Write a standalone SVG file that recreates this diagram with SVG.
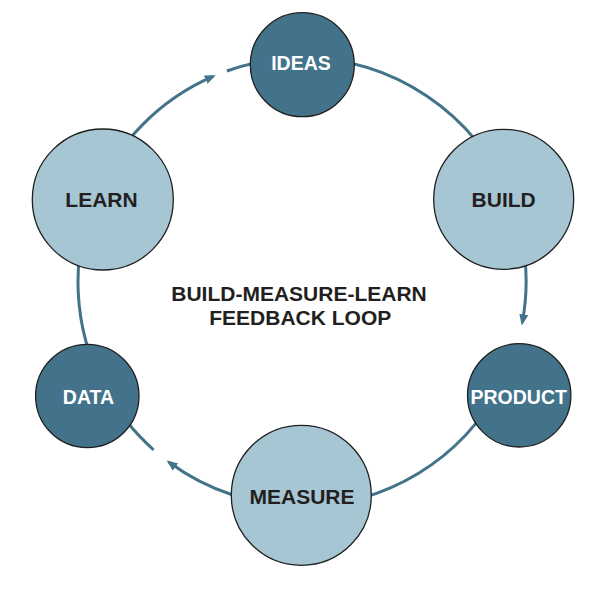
<svg xmlns="http://www.w3.org/2000/svg" width="612" height="596" viewBox="0 0 612 596">
<defs>
<style>
.arc{fill:none;stroke:#43738a;stroke-width:3}
.dark{fill:#43738a;stroke:#1f1f1f;stroke-width:1.3}
.light{fill:#a7c6d3;stroke:#1f1f1f;stroke-width:1.3}
.tw{font-family:"Liberation Sans",Arial,sans-serif;font-weight:bold;font-size:19.5px;fill:#ffffff;text-anchor:middle}
.tb{font-family:"Liberation Sans",Arial,sans-serif;font-weight:bold;font-size:21px;fill:#231f20;text-anchor:middle}
</style>
<marker id="ah" markerUnits="userSpaceOnUse" markerWidth="12" markerHeight="10" refX="8" refY="4.5" orient="auto">
<path d="M0,0 L11,4.5 L0,9 Z" fill="#43738a"/>
</marker>
</defs>
<rect width="612" height="596" fill="#ffffff"/>
<g id="connectors">
<path class="arc" d="M302,58 A224,224 0 0 1 509.25,197"/>
<path class="arc" d="M509.25,197 A224,224 0 0 1 522.32,322.44" marker-end="url(#ah)"/>
<path class="arc" d="M500.69,385.43 A224,224 0 0 1 302,506"/>
<path class="arc" d="M302,506 A224,224 0 0 1 169.07,462.3" marker-end="url(#ah)"/>
<path class="arc" d="M153.57,449.77 A224,224 0 0 1 104.04,386.82"/>
<path class="arc" d="M104.04,386.82 A224,224 0 0 1 95.05,196.28"/>
<path class="arc" d="M95.05,196.28 A224,224 0 0 1 213.04,76.42" marker-end="url(#ah)"/>
<path class="arc" d="M226.86,70.98 A224,224 0 0 1 302,58"/>
</g>
<g id="ideas"><circle class="dark" cx="302.3" cy="64.7" r="52"/><text class="tw" x="301" y="70">IDEAS</text></g>
<g id="build"><circle class="light" cx="503.7" cy="199.3" r="70"/><text class="tb" x="503.7" y="207.3">BUILD</text></g>
<g id="product"><circle class="dark" cx="519.2" cy="395.3" r="51.7"/><text class="tw" x="518.7" y="404.3">PRODUCT</text></g>
<g id="measure"><circle class="light" cx="301.3" cy="495.3" r="70"/><text class="tb" x="302" y="504">MEASURE</text></g>
<g id="data"><circle class="dark" cx="87.3" cy="396" r="51.7"/><text class="tw" x="88.5" y="404.3">DATA</text></g>
<g id="learn"><circle class="light" cx="102.8" cy="199.5" r="70.5"/><text class="tb" x="101.5" y="206.7">LEARN</text></g>
<g id="title">
<text class="tb" x="299" y="300.5">BUILD-MEASURE-LEARN</text>
<text class="tb" x="300.3" y="325">FEEDBACK LOOP</text>
</g>
</svg>
